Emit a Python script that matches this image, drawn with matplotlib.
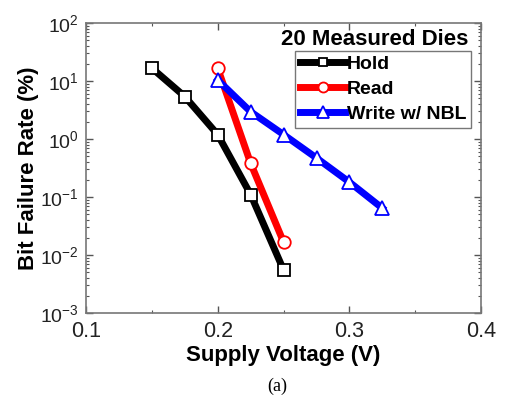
import matplotlib
matplotlib.use('Agg')
import matplotlib.pyplot as plt
from matplotlib.ticker import MultipleLocator, LogLocator, NullFormatter

plt.rcParams['font.family'] = ['Liberation Sans', 'DejaVu Sans']
plt.rcParams['mathtext.fontset'] = 'custom'
plt.rcParams['mathtext.rm'] = 'Liberation Sans'

# data
hold_v = [0.15, 0.175, 0.2, 0.225, 0.25]
hold_rate = [16.7, 5.4, 1.19, 0.11, 0.0055]
read_v = [0.2, 0.225, 0.25]
read_rate = [16.5, 0.38, 0.0166]
write_v = [0.2, 0.225, 0.25, 0.275, 0.3, 0.325]
write_rate = [10.4, 2.95, 1.19, 0.47, 0.18, 0.064]

fig = plt.figure(figsize=(5.06, 3.97), dpi=100)
ax = fig.add_axes([0.170, 0.2116, 0.781, 0.7304])

lw = 5
ms = 8
ax.plot(hold_v, hold_rate, color='black', lw=lw, marker='s', ms=ms,
        mfc='white', mec='black', mew=1.3, label='Hold')
ax.plot(read_v, read_rate, color='red', lw=lw, marker='o', ms=ms + 1,
        mfc='white', mec='red', mew=1.3, label='Read')
ax.plot(write_v, write_rate, color='blue', lw=lw, marker='^', ms=ms + 2,
        mfc='white', mec='blue', mew=1.3, label='Write w/ NBL')

ax.set_yscale('log')
ax.set_xlim(0.1, 0.4)
ax.set_ylim(1e-3, 1e2)
ax.xaxis.set_major_locator(MultipleLocator(0.1))
ax.xaxis.set_minor_locator(MultipleLocator(0.05))
ax.yaxis.set_major_locator(LogLocator(base=10, numticks=10))
ax.yaxis.set_minor_locator(LogLocator(base=10, subs=range(2, 10), numticks=10))
ax.yaxis.set_minor_formatter(NullFormatter())
ax.xaxis.set_major_formatter(plt.FuncFormatter(lambda v, p: f'{v:.1f}'))

ax.tick_params(which='both', direction='in', top=True, right=True,
               color='#555555', labelcolor='#222222')
ax.tick_params(axis='x', labelsize=15.5, pad=6)
ax.tick_params(axis='y', labelsize=14, pad=5)
ax.tick_params(which='major', length=5, width=1)
ax.tick_params(which='minor', length=2.5, width=0.8)
for s in ax.spines.values():
    s.set_color('#777777')
    s.set_linewidth(1.2)

ax.set_xlabel('Supply Voltage (V)', fontsize=16, fontweight='bold', labelpad=2)
ax.set_ylabel('Bit Failure Rate (%)', fontsize=16, fontweight='bold', labelpad=1)

ax.text(0.967, 0.98, '20 Measured Dies', transform=ax.transAxes,
        ha='right', va='top', fontsize=16, fontweight='bold')
leg = ax.legend(loc='upper right', bbox_to_anchor=(0.975, 0.905),
                prop={'size': 14, 'weight': 'bold'}, handlelength=2.3,
                handletextpad=0.1, borderpad=0.25, labelspacing=0.38,
                borderaxespad=0, fancybox=False, framealpha=1,
                edgecolor='#777777', markerscale=0.8)
leg.get_frame().set_linewidth(1.0)

fig.text(0.547, 0.027, '(a)', ha='center', va='center', fontsize=13,
         family='Liberation Serif')

fig.savefig('out.png', dpi=100)
